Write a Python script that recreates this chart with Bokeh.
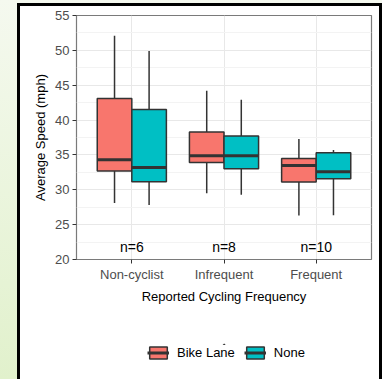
from bokeh.plotting import figure
from bokeh.layouts import column
from bokeh.models import (Range1d, FixedTicker, ColumnDataSource, Legend, LegendItem,
                          GlobalInlineStyleSheet)
from bokeh.transform import dodge
from bokeh.core.properties import value
from bokeh.embed import file_html
from bokeh.resources import INLINE

# ---- data ----
categories = ["Non-cyclist", "Infrequent", "Frequent"]
cat_pos = [1, 2, 3]
groups = ["Bike Lane", "None"]
n_labels = ["n=6", "n=8", "n=10"]
n_label_y = 21.8

bike_lower = [28.1, 29.5, 26.3]
bike_q1 = [32.7, 33.9, 31.1]
bike_median = [34.3, 34.9, 33.5]
bike_q3 = [43.1, 38.3, 34.5]
bike_upper = [52.1, 44.2, 37.3]

none_lower = [27.8, 29.3, 26.35]
none_q1 = [31.15, 33.0, 31.6]
none_median = [33.2, 34.9, 32.6]
none_q3 = [41.5, 37.7, 35.3]
none_upper = [49.9, 42.9, 35.7]

y_ticks = [20, 25, 30, 35, 40, 45, 50, 55]
y_minor = [22.5, 27.5, 32.5, 37.5, 42.5, 47.5, 52.5]

colors = {"Bike Lane": "#F8766D", "None": "#00BFC4"}
FONT = "Liberation Sans"
EDGE = "#333333"

PAGE_CSS = """
html { background: linear-gradient(180deg, #f5f9ef 0%, #e1f1cc 100%); }
body { background: transparent; margin: 6px 0 0 20px; overflow: hidden; }
body::before { content: ""; position: absolute; left: 17px; top: 3px; width: 359px; height: 373px;
  border-left: 3px solid #000; border-top: 3px solid #000; border-right: 3px solid #000;
  pointer-events: none; z-index: 100; }
body::after { content: ""; position: absolute; left: 20px; top: 6px; width: 359px; height: 373px;
  background: #ffffff; z-index: -1; }
"""

p = figure(width=359, height=314, x_range=Range1d(0.4, 3.6), y_range=Range1d(20, 55),
           output_backend="svg", toolbar_location=None,
           min_border_left=56, min_border_right=8, min_border_top=9, min_border_bottom=61)
p.stylesheets = [GlobalInlineStyleSheet(css=PAGE_CSS)]

p.background_fill_color = "white"
p.border_fill_color = "white"
p.outline_line_color = "#7a7a7a"
p.outline_line_width = 1.2

# grid
p.xgrid.ticker = FixedTicker(ticks=cat_pos)
p.ygrid.ticker = FixedTicker(ticks=y_ticks, minor_ticks=y_minor)
p.xgrid.grid_line_color = "#e8e8e8"
p.ygrid.grid_line_color = "#e8e8e8"
p.ygrid.minor_grid_line_color = "#f3f3f3"

# axes
p.xaxis.ticker = FixedTicker(ticks=cat_pos)
p.xaxis.major_label_overrides = {k: v for k, v in zip(cat_pos, categories)}
p.yaxis.ticker = FixedTicker(ticks=y_ticks)
for ax in (p.xaxis[0], p.yaxis[0]):
    ax.axis_line_color = None
    ax.major_tick_in = 0
    ax.major_tick_out = 4
    ax.major_tick_line_color = EDGE
    ax.minor_tick_line_color = None
    ax.major_label_text_font = FONT
    ax.major_label_text_font_size = "13px"
    ax.major_label_text_color = "#4d4d4d"
    ax.major_label_standoff = 3
    ax.axis_label_text_font = FONT
    ax.axis_label_text_font_size = "13px"
    ax.axis_label_text_font_style = "normal"
    ax.axis_label_text_color = "black"
    ax.axis_label_standoff = 4
p.xaxis.axis_label = "Reported Cycling Frequency"
p.yaxis.axis_label = "Average Speed (mph)"

# ---- legend strip: the same boxes are drawn again, squeezed to a hairline that sits
# under the opaque legend, so that the legend keys carry exactly the box styling ----
lg = figure(width=359, height=59, x_range=Range1d(-1000, 1000), y_range=Range1d(6, 68),
            output_backend="svg", toolbar_location=None,
            min_border_left=56, min_border_right=8, min_border_top=0, min_border_bottom=0)
lg.axis.visible = False
lg.grid.visible = False
lg.outline_line_color = None
lg.background_fill_color = "white"
lg.border_fill_color = "white"

half = 0.375
items = []
for g, lo, q1, med, q3, up, off in [
        ("Bike Lane", bike_lower, bike_q1, bike_median, bike_q3, bike_upper, -half / 2),
        ("None", none_lower, none_q1, none_median, none_q3, none_upper, half / 2)]:
    src = ColumnDataSource(dict(x=cat_pos, lo=lo, q1=q1, med=med, q3=q3, up=up))
    xc = dodge("x", off, range=p.x_range)
    x0 = dodge("x", off - half / 2, range=p.x_range)
    x1 = dodge("x", off + half / 2, range=p.x_range)
    p.segment(x0=xc, x1=xc, y0="q3", y1="up", source=src, line_color=EDGE, line_width=1.5)
    p.segment(x0=xc, x1=xc, y0="q1", y1="lo", source=src, line_color=EDGE, line_width=1.5)
    p.vbar(x=xc, width=half, top="q3", bottom="q1", source=src,
           fill_color=colors[g], line_color=EDGE, line_width=1.5)
    p.segment(x0=x0, x1=x1, y0="med", y1="med", source=src, line_color=EDGE, line_width=3)

    b = lg.vbar(x="x", width=half, top="q3", bottom="q1", source=src,
                fill_color=colors[g], line_color=EDGE, line_width=1.5)
    m = lg.segment(x0="x", x1="x", y0="med", y1="med", source=src, line_color=EDGE, line_width=3)
    items.append(LegendItem(label=g, renderers=[b, m]))

p.text(x=cat_pos, y=[n_label_y] * len(cat_pos), text=n_labels, text_align="center",
       text_baseline="middle", text_font=value(FONT), text_font_size="14px", text_color="black")

legend = Legend(items=items, orientation="horizontal", location=(71, 19),
                border_line_color=None, background_fill_color="white", background_fill_alpha=1,
                glyph_width=22, glyph_height=15, label_standoff=8, spacing=9,
                label_text_font=FONT, label_text_font_size="13px", label_text_color="black",
                margin=0, padding=5)
lg.add_layout(legend, "center")

root = column(p, lg, spacing=0)
open("out.html", "w").write(file_html(root, INLINE))
